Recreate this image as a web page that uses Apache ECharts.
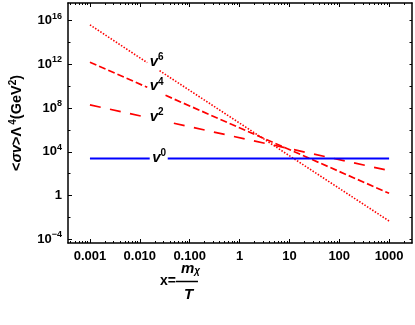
<!DOCTYPE html>
<html><head><meta charset="utf-8">
<script src="https://cdn.jsdelivr.net/npm/echarts@6/dist/echarts.min.js"></script>
<style>html,body{margin:0;padding:0;background:#fff}#c{width:415px;height:325px}</style>
</head><body><div id="c"></div>
<script>
// ---- data ----
const xTicks = [0.001, 0.01, 0.1, 1, 10, 100, 1000];
const xTickLabels = ['0.001', '0.010', '0.100', '1', '10', '100', '1000'];
const yTicks = [1e-4, 1, 1e4, 1e8, 1e12, 1e16];
const yTickBase = ['10', '1', '10', '10', '10', '10'];
const yTickExp = ['\u22124', '', '4', '8', '12', '16'];
const yMinorLeft = [1e-2, 1e2, 1e6, 1e10, 1e14];
const yTicksRight = [1e-4, 1e-2, 1, 1e2, 1e4, 1e6, 1e8, 1e10, 1e12, 1e14, 1e16];
const xRange = [3.63e-4, 2.88e3];
const yRange = [4.6e-5, 4.0e17];

// each curve: left segment, null (gap for its label), right segment
const curveV6 = [[0.001, 4.0e15], [0.0141, 1.41e12], null, [0.0249, 2.6e11], [1000, 4.7e-3]];
const curveV4 = [[0.001, 1.55e12], [0.0141, 7.8e9], null, [0.0328, 1.45e9], [1000, 1.6]];
const curveV2 = [[0.001, 1.95e8], [0.0141, 1.38e7], null, [0.0482, 4.07e6], [1000, 190]];
const curveV0 = [[0.001, 2500], [0.0158, 2500], null, [0.0363, 2500], [1000, 2500]];
const curveNames = ['v6', 'v4', 'v2', 'v0'];
const curveSup = ['6', '4', '2', '0'];

// minor decade ticks for the x axis
const xMinor = [];
for (let k = -4; k <= 3; k++) for (let m = 2; m <= 9; m++) {
  const v = m * Math.pow(10, k);
  if (v > xRange[0] && v < xRange[1]) xMinor.push(v);
}

const FONT = '"Liberation Sans", Arial, Helvetica, sans-serif';
const near = (a, b) => Math.abs(Math.log10(a) - Math.log10(b)) < 1e-6;

function xAx(pos, vals, len, showLine, showLabel) {
  return {
    type: 'log', logBase: 10, min: xRange[0], max: xRange[1], position: pos,
    axisLine: { show: showLine, onZero: false, lineStyle: { color: '#000', width: 1.5 } },
    axisTick: { show: true, inside: true, length: len, customValues: vals, lineStyle: { color: '#000', width: 1 } },
    axisLabel: {
      show: showLabel, customValues: vals, margin: 7,
      fontFamily: FONT, fontWeight: 'bold', fontSize: 13, color: '#000',
      formatter: v => { const i = xTicks.findIndex(t => near(t, v)); return i >= 0 ? xTickLabels[i] : ''; }
    },
    splitLine: { show: false }, minorTick: { show: false }, minorSplitLine: { show: false }
  };
}
function yAx(pos, vals, len, showLine, showLabel, extra) {
  return Object.assign({
    type: 'log', logBase: 10, min: yRange[0], max: yRange[1], position: pos,
    axisLine: { show: showLine, onZero: false, lineStyle: { color: '#000', width: 1.5 } },
    axisTick: { show: true, inside: true, length: len, customValues: vals, lineStyle: { color: '#000', width: 1 } },
    axisLabel: {
      show: showLabel, customValues: vals, margin: 6,
      formatter: v => {
        const i = yTicks.findIndex(t => near(t, v));
        if (i < 0) return '';
        return yTickExp[i] ? '{b|' + yTickBase[i] + '}{s|' + yTickExp[i] + '}' : '{b|' + yTickBase[i] + '}';
      },
      rich: {
        b: { fontFamily: FONT, fontWeight: 'bold', fontSize: 13, lineHeight: 14, color: '#000' },
        s: { fontFamily: FONT, fontWeight: 'bold', fontSize: 9, lineHeight: 9, padding: [0, 0, 9, 0], color: '#000' }
      }
    },
    splitLine: { show: false }, minorTick: { show: false }, minorSplitLine: { show: false }
  }, extra || {});
}

const styles = [
  { color: '#ff0000', width: 1.6, type: [1.5, 1.6] },
  { color: '#ff0000', width: 1.7, type: [7, 3] },
  { color: '#ff0000', width: 1.7, type: [11, 9.5] },
  { color: '#0000ff', width: 2, type: 'solid' }
];
const curves = [curveV6, curveV4, curveV2, curveV0];

const series = [];
curves.forEach((c, ci) => {
  const gap = c.indexOf(null);
  const left = c.slice(0, gap), right = c.slice(gap + 1);
  const base = {
    type: 'line', xAxisIndex: 0, yAxisIndex: 0, showSymbol: false, symbol: 'none',
    lineStyle: styles[ci], itemStyle: { color: styles[ci].color }, silent: true, z: 3
  };
  series.push(Object.assign({}, base, {
    name: curveNames[ci], data: left,
    markPoint: {
      symbol: 'circle', symbolSize: 1, itemStyle: { color: 'rgba(0,0,0,0)' }, silent: true,
      data: [{ coord: left[left.length - 1] }],
      label: {
        show: true, position: 'right', distance: 2, offset: [0, -1],
        formatter: '{v|v}{s|' + curveSup[ci] + '}',
        rich: {
          v: { fontFamily: FONT, fontWeight: 'bold', fontStyle: 'italic', fontSize: 15, lineHeight: 14, color: '#000' },
          s: { fontFamily: FONT, fontWeight: 'bold', fontSize: 10, lineHeight: 10, padding: [0, 0, 8, 0], color: '#000' }
        }
      }
    }
  }));
  series.push(Object.assign({}, base, { name: curveNames[ci] + 'b', data: right }));
});

const chart = echarts.init(document.getElementById('c'), null, { renderer: 'canvas' });
chart.setOption({
  animation: false,
  backgroundColor: '#fff',
  grid: { left: 68, right: 3, top: 3, bottom: 82, containLabel: false },
  title: {
    left: 160, top: 262, padding: 0,
    text: '{sp1|\u00a0}{m|m}{c|\u03c7}\n{x|x=}{bar|\u00a0}\n{sp2|\u00a0}{T|T}',
    textStyle: {
      rich: {
        sp1: { width: 21, fontSize: 13, lineHeight: 13 },
        sp2: { width: 24, fontSize: 13, lineHeight: 13 },
        m: { fontFamily: FONT, fontWeight: 'bold', fontStyle: 'italic', fontSize: 15, lineHeight: 13, color: '#000' },
        c: { fontFamily: FONT, fontStyle: 'italic', fontSize: 10, lineHeight: 8, padding: [6, 0, 0, 0], color: '#000' },
        x: { fontFamily: FONT, fontWeight: 'bold', fontSize: 14, lineHeight: 13, color: '#000' },
        bar: { width: 22, fontSize: 2, lineHeight: 1.5, height: 1.5, backgroundColor: '#000' },
        T: { fontFamily: FONT, fontWeight: 'bold', fontStyle: 'italic', fontSize: 15, lineHeight: 13, color: '#000' }
      }
    }
  },
  xAxis: [
    xAx('bottom', xTicks, 4, true, true),
    xAx('bottom', xMinor, 2, false, false),
    xAx('top', xTicks, 4, true, false),
    xAx('top', xMinor, 2, false, false)
  ],
  yAxis: [
    yAx('left', yTicks, 4, true, true, {
      name: '{n|<}{i|\u03c3v}{n|>\u039b}{s|\u20094}{n|(GeV}{s|2}{n|)}',
      nameLocation: 'middle', nameRotate: 90, nameGap: 34,
      nameTextStyle: {
        rich: {
          n: { fontFamily: FONT, fontWeight: 'bold', fontSize: 14.5, lineHeight: 14, color: '#000' },
          i: { fontFamily: FONT, fontWeight: 'bold', fontStyle: 'italic', fontSize: 14.5, lineHeight: 14, color: '#000' },
          s: { fontFamily: FONT, fontWeight: 'bold', fontSize: 10, lineHeight: 10, padding: [0, 0, 8, 0], color: '#000' }
        }
      }
    }),
    yAx('left', yMinorLeft, 2.5, false, false),
    yAx('right', yTicksRight, 2.5, true, false)
  ],
  series: series
});
</script></body></html>
